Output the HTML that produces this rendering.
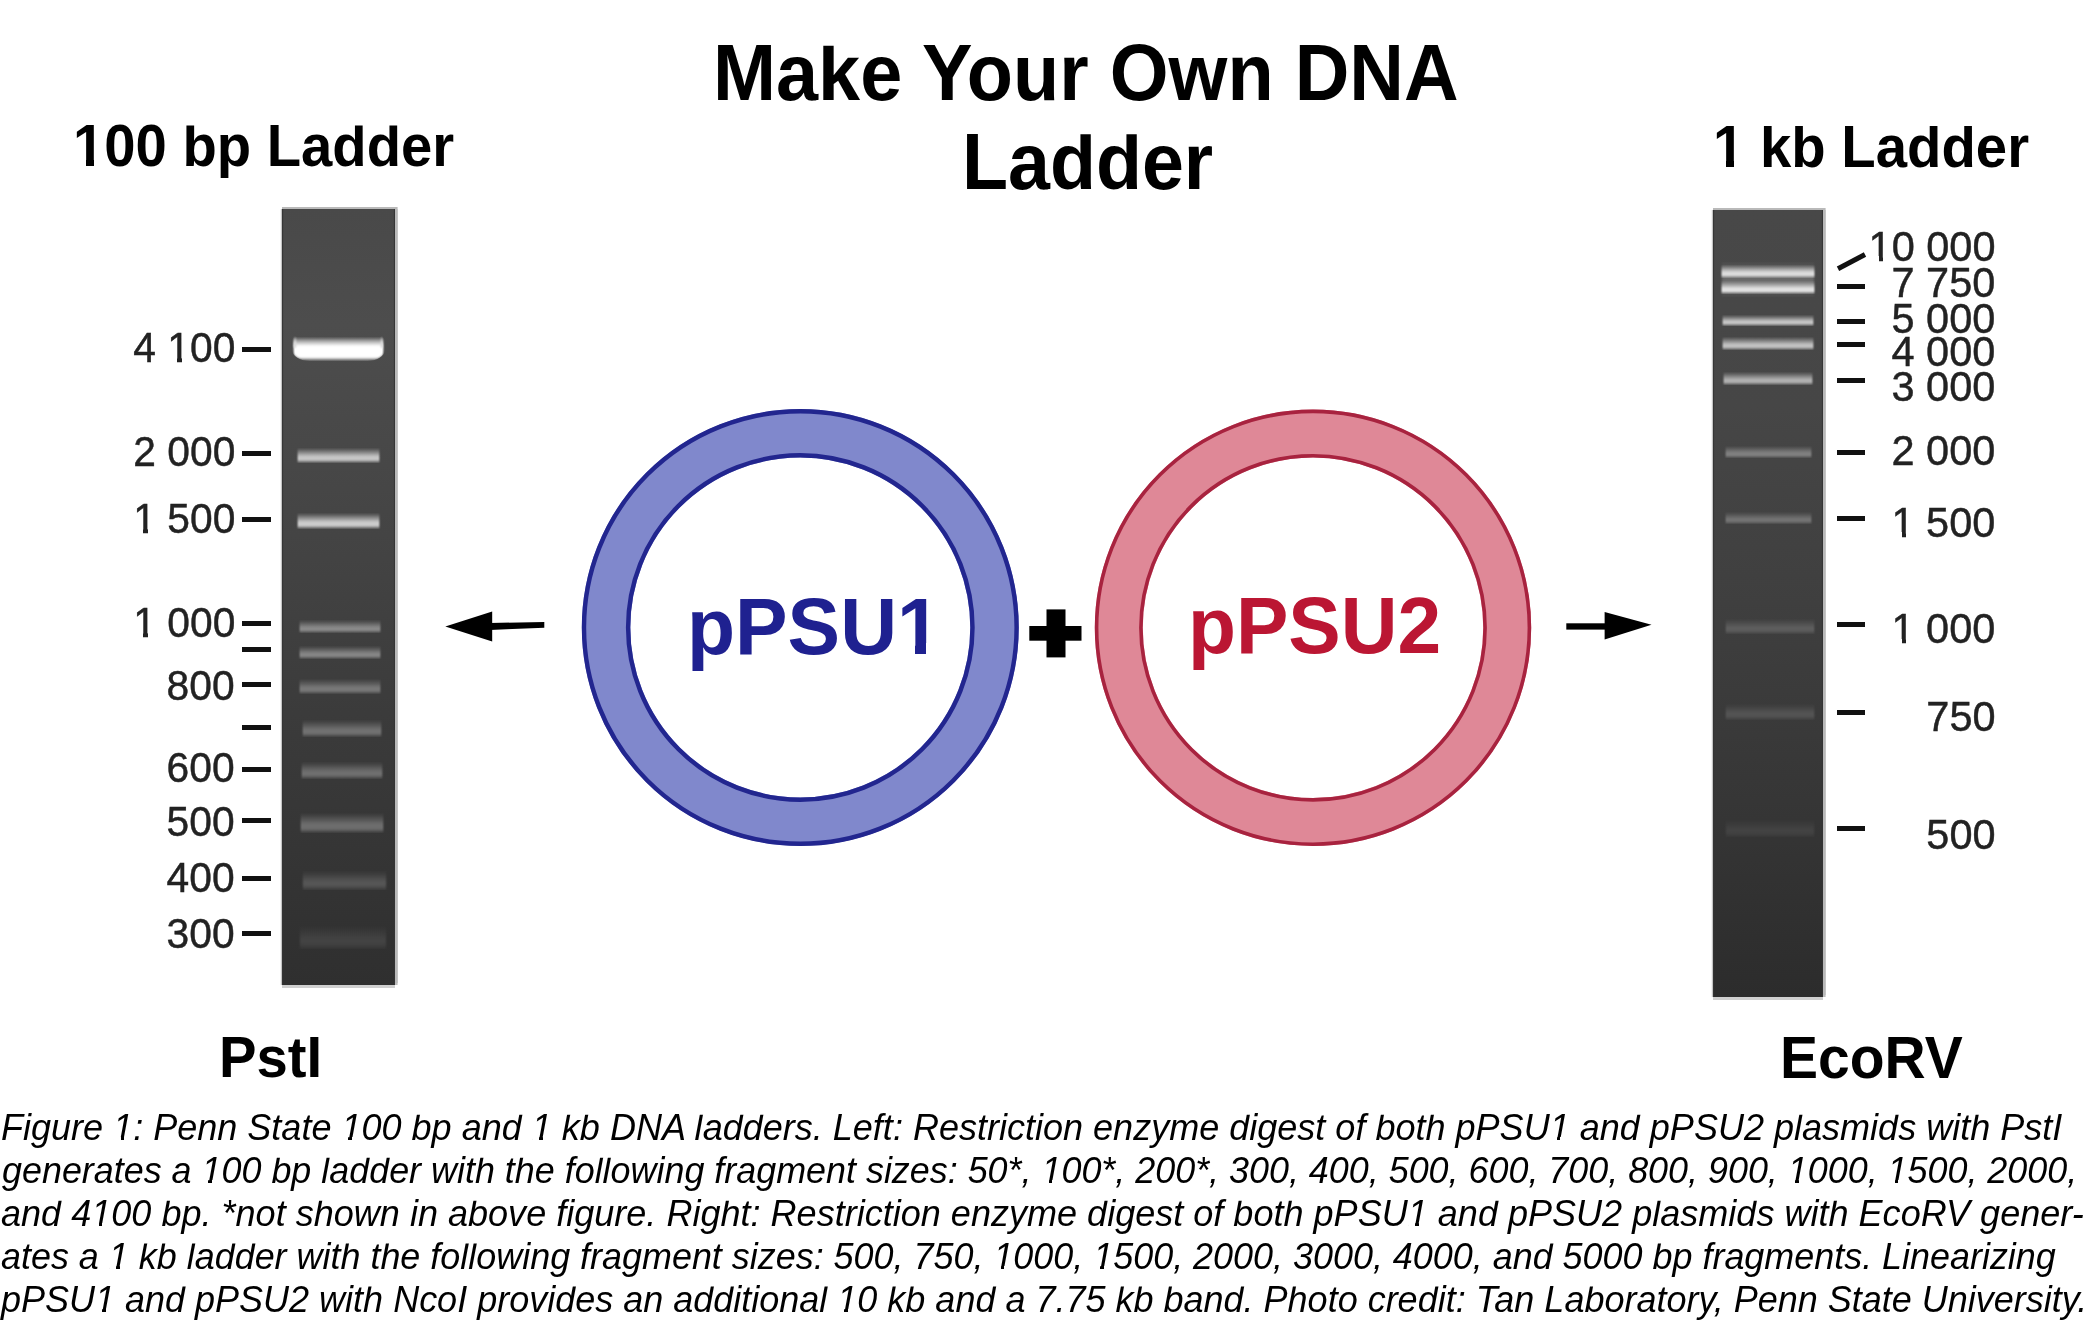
<!DOCTYPE html>
<html><head><meta charset="utf-8"><title>Make Your Own DNA Ladder</title><style>
html,body{margin:0;padding:0;}
body{width:2097px;height:1329px;position:relative;overflow:hidden;background:#fff;font-family:"Liberation Sans",sans-serif;}
.t{position:absolute;line-height:1;white-space:nowrap;transform-origin:0 0;}
.lab{color:#222;font-weight:normal;transform-origin:100% 0;-webkit-text-stroke:0.45px #222;}
.dash{position:absolute;height:5px;background:#111;}
.ov{position:absolute;left:0;top:0;}
.gel{position:absolute;overflow:hidden;box-shadow:inset 2px 0 1px -1px #353535, inset -2px 0 1px -1px #353535, 0 -2px 0 0 #b9b9b9, 2.6px -2px 0 0 #b9b9b9, 2.6px 0 0 0 #bdbdbd, 0 3px 0 0 #cfcfcf, -1.2px 0 0 0 #c4c4c4;}
.band{position:absolute;-webkit-mask-image:linear-gradient(to right,transparent 0,#000 3px,#000 calc(100% - 3px),transparent 100%);mask-image:linear-gradient(to right,transparent 0,#000 3px,#000 calc(100% - 3px),transparent 100%);}
.o1{position:relative;display:inline-block;}
.asc{display:inline-block;clip-path:inset(0.157em -0.3em -0.6em -0.3em);}
.o1::after{content:"";position:absolute;top:calc(0.8467em - var(--fh));height:calc(var(--fh) + 0.06em);left:0;right:-0.02em;
  background:linear-gradient(to right,#fff 0,#fff var(--sl),transparent var(--sl),transparent var(--sr),#fff var(--sr),#fff 100%);}
.o1r{--fh:0.105em;--sl:0.2490em;--sr:0.3420em;}
.lab .o1r{--fh:0.115em;--sl:0.2435em;--sr:0.3478em;}
.o1b{--fh:0.135em;--sl:0.2314em;--sr:0.3726em;}
.o1i{--fh:0.095em;--sl:0.2010em;--sr:0.3010em;}


</style></head><body><div id="wrap" style="position:absolute;left:0;top:0;width:2097px;height:1329px;filter:blur(0.45px);">
<svg class="ov" width="2097" height="1329" viewBox="0 0 2097 1329">
<circle cx="800.3" cy="627.5" r="194.2" fill="none" stroke="#8088cc" stroke-width="48.5"/>
<circle cx="800.3" cy="627.5" r="216.3" fill="none" stroke="#22268f" stroke-width="4.4"/>
<circle cx="800.3" cy="627.5" r="172.2" fill="none" stroke="#22268f" stroke-width="4.4"/>
<circle cx="1313" cy="627.8" r="194.2" fill="none" stroke="#df8897" stroke-width="48"/>
<circle cx="1313" cy="627.8" r="216.4" fill="none" stroke="#a8233f" stroke-width="3.6"/>
<circle cx="1313" cy="627.8" r="172.1" fill="none" stroke="#a8233f" stroke-width="3.6"/>
<polygon points="445.3,626.5 492.2,611.6 492.2,641.4" fill="#000"/>
<polygon points="490,623 544.3,622 544.3,627.8 490,630" fill="#000"/>
<polygon points="1651.5,624.8 1604.6,612 1604.6,639.6" fill="#000"/>
<rect x="1566.3" y="623.3" width="40" height="6.3" fill="#000"/>
<rect x="1046.5" y="609.4" width="19" height="48" fill="#000"/>
<rect x="1029.3" y="626" width="52.2" height="14.7" fill="#000"/>
<line x1="1838" y1="268.8" x2="1865" y2="254.5" stroke="#111" stroke-width="5"/>
</svg>
<div id="t1" class="t" style="left:713.23px;top:33.20px;font-size:79.36px;font-weight:bold;font-style:normal;color:#000;transform:scaleX(0.9535);">Ma<span class="asc">k</span>e Your Own DNA</div>
<div id="t2" class="t" style="left:962.27px;top:121.86px;font-size:79.65px;font-weight:bold;font-style:normal;color:#000;transform:scaleX(0.9459);">La<span class="asc">d</span><span class="asc">d</span>er</div>
<div id="h1" class="t" style="left:73.43px;top:116.09px;font-size:59.30px;font-weight:bold;font-style:normal;color:#000;transform:scaleX(0.9481);"><span class="o1 o1b">1</span>00 <span class="asc">b</span>p La<span class="asc">d</span><span class="asc">d</span>er</div>
<div id="h2" class="t" style="left:1713.23px;top:116.59px;font-size:59.30px;font-weight:bold;font-style:normal;color:#000;transform:scaleX(0.9495);"><span class="o1 o1b">1</span> <span class="asc">k</span><span class="asc">b</span> La<span class="asc">d</span><span class="asc">d</span>er</div>
<div id="pst" class="t" style="left:219.12px;top:1028.40px;font-size:58.00px;font-weight:bold;font-style:normal;color:#000;transform:scaleX(0.9697);">PstI</div>
<div id="eco" class="t" style="left:1780.17px;top:1027.54px;font-size:59.59px;font-weight:bold;font-style:normal;color:#000;transform:scaleX(0.9570);">EcoRV</div>
<div id="p1" class="t" style="left:686.90px;top:585.87px;font-size:80.23px;font-weight:bold;font-style:normal;color:#1f2190;transform:scaleX(0.9815);">pPSU<span class="o1 o1b">1</span></div>
<div id="p2" class="t" style="left:1188.07px;top:586.08px;font-size:79.51px;font-weight:bold;font-style:normal;color:#bb1633;transform:scaleX(0.9879);">pPSU2</div>
<div id="c0" class="t" style="left:1.04px;top:1108.75px;font-size:37.50px;font-weight:normal;font-style:italic;color:#000;transform:scaleX(0.9606);">Figure <span class="o1 o1i">1</span>: Penn State <span class="o1 o1i">1</span>00 <span class="asc">b</span>p an<span class="asc">d</span> <span class="o1 o1i">1</span> <span class="asc">k</span><span class="asc">b</span> DNA <span class="asc">l</span>a<span class="asc">d</span><span class="asc">d</span>ers. Left: Restriction enzyme <span class="asc">d</span>igest of <span class="asc">b</span>ot<span class="asc">h</span> pPSU<span class="o1 o1i">1</span> an<span class="asc">d</span> pPSU2 p<span class="asc">l</span>asmi<span class="asc">d</span>s wit<span class="asc">h</span> PstI</div>
<div id="c1" class="t" style="left:2.00px;top:1151.75px;font-size:37.50px;font-weight:normal;font-style:italic;color:#000;transform:scaleX(0.9570);">generates a <span class="o1 o1i">1</span>00 <span class="asc">b</span>p <span class="asc">l</span>a<span class="asc">d</span><span class="asc">d</span>er wit<span class="asc">h</span> t<span class="asc">h</span>e fo<span class="asc">l</span><span class="asc">l</span>owing fragment sizes: 50*, <span class="o1 o1i">1</span>00*, 200*, 300, 400, 500, 600, 700, 800, 900, <span class="o1 o1i">1</span>000, <span class="o1 o1i">1</span>500, 2000,</div>
<div id="c2" class="t" style="left:1.04px;top:1194.75px;font-size:37.50px;font-weight:normal;font-style:italic;color:#000;transform:scaleX(0.9612);">an<span class="asc">d</span> 4<span class="o1 o1i">1</span>00 <span class="asc">b</span>p. *not s<span class="asc">h</span>own in a<span class="asc">b</span>ove figure. Rig<span class="asc">h</span>t: Restriction enzyme <span class="asc">d</span>igest of <span class="asc">b</span>ot<span class="asc">h</span> pPSU<span class="o1 o1i">1</span> an<span class="asc">d</span> pPSU2 p<span class="asc">l</span>asmi<span class="asc">d</span>s wit<span class="asc">h</span> EcoRV gener-</div>
<div id="c3" class="t" style="left:1.04px;top:1237.55px;font-size:37.50px;font-weight:normal;font-style:italic;color:#000;transform:scaleX(0.9578);">ates a <span class="o1 o1i">1</span> <span class="asc">k</span><span class="asc">b</span> <span class="asc">l</span>a<span class="asc">d</span><span class="asc">d</span>er wit<span class="asc">h</span> t<span class="asc">h</span>e fo<span class="asc">l</span><span class="asc">l</span>owing fragment sizes: 500, 750, <span class="o1 o1i">1</span>000, <span class="o1 o1i">1</span>500, 2000, 3000, 4000, an<span class="asc">d</span> 5000 <span class="asc">b</span>p fragments. Linearizing</div>
<div id="c4" class="t" style="left:0.98px;top:1280.65px;font-size:37.50px;font-weight:normal;font-style:italic;color:#000;transform:scaleX(0.9597);">pPSU<span class="o1 o1i">1</span> an<span class="asc">d</span> pPSU2 wit<span class="asc">h</span> NcoI provi<span class="asc">d</span>es an a<span class="asc">d</span><span class="asc">d</span>itiona<span class="asc">l</span> <span class="o1 o1i">1</span>0 <span class="asc">k</span><span class="asc">b</span> an<span class="asc">d</span> a 7.75 <span class="asc">k</span><span class="asc">b</span> <span class="asc">b</span>an<span class="asc">d</span>. P<span class="asc">h</span>oto cre<span class="asc">d</span>it: Tan La<span class="asc">b</span>oratory, Penn State University.</div>
<div id="lL0" class="t lab" style="right:1862.02px;top:326.99px;font-size:41.7px;transform:scaleX(0.9775);">4 <span class="o1 o1r">1</span>00</div>
<div id="lL1" class="t lab" style="right:1862.02px;top:431.19px;font-size:41.7px;transform:scaleX(0.9775);">2 000</div>
<div id="lL2" class="t lab" style="right:1862.02px;top:498.09px;font-size:41.7px;transform:scaleX(0.9775);"><span class="o1 o1r">1</span> 500</div>
<div id="lL3" class="t lab" style="right:1862.02px;top:602.29px;font-size:41.7px;transform:scaleX(0.9775);"><span class="o1 o1r">1</span> 000</div>
<div id="lL4" class="t lab" style="right:1862.02px;top:665.29px;font-size:41.7px;transform:scaleX(0.9775);">800</div>
<div id="lL5" class="t lab" style="right:1862.02px;top:747.39px;font-size:41.7px;transform:scaleX(0.9775);">600</div>
<div id="lL6" class="t lab" style="right:1862.02px;top:801.29px;font-size:41.7px;transform:scaleX(0.9775);">500</div>
<div id="lL7" class="t lab" style="right:1862.02px;top:856.99px;font-size:41.7px;transform:scaleX(0.9775);">400</div>
<div id="lL8" class="t lab" style="right:1862.02px;top:912.69px;font-size:41.7px;transform:scaleX(0.9775);">300</div>
<div id="lR0" class="t lab" style="right:101.61px;top:225.79px;font-size:41.7px;transform:scaleX(0.9951);"><span class="o1 o1r">1</span>0 000</div>
<div id="lR1" class="t lab" style="right:101.61px;top:262.19px;font-size:41.7px;transform:scaleX(0.9951);">7 750</div>
<div id="lR2" class="t lab" style="right:101.61px;top:297.59px;font-size:41.7px;transform:scaleX(0.9951);">5 000</div>
<div id="lR3" class="t lab" style="right:101.61px;top:330.69px;font-size:41.7px;transform:scaleX(0.9951);">4 000</div>
<div id="lR4" class="t lab" style="right:101.61px;top:365.89px;font-size:41.7px;transform:scaleX(0.9951);">3 000</div>
<div id="lR5" class="t lab" style="right:101.61px;top:430.29px;font-size:41.7px;transform:scaleX(0.9951);">2 000</div>
<div id="lR6" class="t lab" style="right:101.61px;top:501.69px;font-size:41.7px;transform:scaleX(0.9951);"><span class="o1 o1r">1</span> 500</div>
<div id="lR7" class="t lab" style="right:101.61px;top:608.19px;font-size:41.7px;transform:scaleX(0.9951);"><span class="o1 o1r">1</span> 000</div>
<div id="lR8" class="t lab" style="right:101.61px;top:695.79px;font-size:41.7px;transform:scaleX(0.9951);">750</div>
<div id="lR9" class="t lab" style="right:101.61px;top:814.39px;font-size:41.7px;transform:scaleX(0.9951);">500</div>
<div class="dash" style="left:241.5px;top:346.5px;width:29.2px;"></div>
<div class="dash" style="left:241.5px;top:451.1px;width:29.2px;"></div>
<div class="dash" style="left:241.5px;top:516.5px;width:29.2px;"></div>
<div class="dash" style="left:241.5px;top:620.7px;width:29.2px;"></div>
<div class="dash" style="left:241.5px;top:647.2px;width:29.2px;"></div>
<div class="dash" style="left:241.5px;top:682.4px;width:29.2px;"></div>
<div class="dash" style="left:241.5px;top:724.9px;width:29.2px;"></div>
<div class="dash" style="left:241.5px;top:766.9px;width:29.2px;"></div>
<div class="dash" style="left:241.5px;top:817.8px;width:29.2px;"></div>
<div class="dash" style="left:241.5px;top:875.9px;width:29.2px;"></div>
<div class="dash" style="left:241.5px;top:930.7px;width:29.2px;"></div>
<div class="dash" style="left:1836.8px;top:284.0px;width:28.2px;"></div>
<div class="dash" style="left:1836.8px;top:319.0px;width:28.2px;"></div>
<div class="dash" style="left:1836.8px;top:341.9px;width:28.2px;"></div>
<div class="dash" style="left:1836.8px;top:377.6px;width:28.2px;"></div>
<div class="dash" style="left:1836.8px;top:450.0px;width:28.2px;"></div>
<div class="dash" style="left:1836.8px;top:516.4px;width:28.2px;"></div>
<div class="dash" style="left:1836.8px;top:621.9px;width:28.2px;"></div>
<div class="dash" style="left:1836.8px;top:710.4px;width:28.2px;"></div>
<div class="dash" style="left:1836.8px;top:826.2px;width:28.2px;"></div>
<div class="gel" style="left:282.3px;top:209px;width:112.5px;height:776.2px;background:linear-gradient(to bottom,#494949 0%,#4d4d4d 15%,#484848 30%,#434343 45%,#3b3b3b 65%,#2f2f2f 100%);"><div class="band" style="left:9.7px;top:128.0px;width:93.0px;height:24.0px;background:linear-gradient(to bottom,rgba(190,190,190,0) 0%,rgba(200,200,200,0.8) 18%,#fff 38%,#fff 85%,rgba(255,255,255,0) 100%);filter:blur(1.0px);border-radius:4px 4px 18px 18px/4px 4px 11px 11px;"></div><div class="band" style="left:10.2px;top:126.5px;width:5.5px;height:13.5px;background:linear-gradient(to bottom,rgba(220,220,220,0) 0%,rgba(220,220,220,0.5) 30%,rgb(220,220,220) 58%,rgb(220,220,220) 80%,rgba(220,220,220,0) 100%);filter:blur(1.3px);border-radius:3px;"></div><div class="band" style="left:96.7px;top:126.5px;width:5.5px;height:13.5px;background:linear-gradient(to bottom,rgba(220,220,220,0) 0%,rgba(220,220,220,0.5) 30%,rgb(220,220,220) 58%,rgb(220,220,220) 80%,rgba(220,220,220,0) 100%);filter:blur(1.3px);border-radius:3px;"></div><div class="band" style="left:14.2px;top:238.5px;width:85.0px;height:15.0px;background:linear-gradient(to bottom,rgba(200,200,200,0) 0%,rgba(200,200,200,0.5) 30%,rgb(200,200,200) 58%,rgb(200,200,200) 80%,rgba(200,200,200,0) 100%);filter:blur(0.9px);"></div><div class="band" style="left:14.2px;top:303.5px;width:85.0px;height:16.0px;background:linear-gradient(to bottom,rgba(205,205,205,0) 0%,rgba(205,205,205,0.5) 30%,rgb(205,205,205) 58%,rgb(205,205,205) 80%,rgba(205,205,205,0) 100%);filter:blur(0.9px);"></div><div class="band" style="left:16.2px;top:411.0px;width:83.5px;height:13.0px;background:linear-gradient(to bottom,rgba(138,138,138,0) 0%,rgba(138,138,138,0.5) 30%,rgb(138,138,138) 58%,rgb(138,138,138) 80%,rgba(138,138,138,0) 100%);filter:blur(1.2px);"></div><div class="band" style="left:16.2px;top:436.5px;width:83.5px;height:13.5px;background:linear-gradient(to bottom,rgba(134,134,134,0) 0%,rgba(134,134,134,0.5) 30%,rgb(134,134,134) 58%,rgb(134,134,134) 80%,rgba(134,134,134,0) 100%);filter:blur(1.2px);"></div><div class="band" style="left:16.2px;top:470.0px;width:83.5px;height:15.0px;background:linear-gradient(to bottom,rgba(120,120,120,0) 0%,rgba(120,120,120,0.5) 30%,rgb(120,120,120) 58%,rgb(120,120,120) 80%,rgba(120,120,120,0) 100%);filter:blur(1.3px);"></div><div class="band" style="left:18.7px;top:510.5px;width:82.0px;height:17.0px;background:linear-gradient(to bottom,rgba(114,114,114,0) 0%,rgba(114,114,114,0.5) 30%,rgb(114,114,114) 58%,rgb(114,114,114) 80%,rgba(114,114,114,0) 100%);filter:blur(1.6px);"></div><div class="band" style="left:17.7px;top:553.0px;width:84.0px;height:17.0px;background:linear-gradient(to bottom,rgba(112,112,112,0) 0%,rgba(112,112,112,0.5) 30%,rgb(112,112,112) 58%,rgb(112,112,112) 80%,rgba(112,112,112,0) 100%);filter:blur(1.6px);"></div><div class="band" style="left:16.7px;top:603.5px;width:86.0px;height:20.0px;background:linear-gradient(to bottom,rgba(110,110,110,0) 0%,rgba(110,110,110,0.5) 30%,rgb(110,110,110) 58%,rgb(110,110,110) 80%,rgba(110,110,110,0) 100%);filter:blur(1.8px);"></div><div class="band" style="left:18.7px;top:662.0px;width:87.0px;height:18.5px;background:linear-gradient(to bottom,rgba(88,88,88,0) 0%,rgba(88,88,88,0.5) 30%,rgb(88,88,88) 58%,rgb(88,88,88) 80%,rgba(88,88,88,0) 100%);filter:blur(2.0px);"></div><div class="band" style="left:15.7px;top:717.0px;width:90.0px;height:23.0px;background:linear-gradient(to bottom,rgba(68,68,68,0) 0%,rgba(68,68,68,0.5) 30%,rgb(68,68,68) 58%,rgb(68,68,68) 80%,rgba(68,68,68,0) 100%);filter:blur(2.6px);"></div></div>
<div class="gel" style="left:1712.5px;top:209.5px;width:110.70000000000005px;height:787.7px;background:linear-gradient(to bottom,#484848 0%,#464646 25%,#3f3f3f 50%,#363636 75%,#2c2c2c 100%);"><div class="band" style="left:7.5px;top:52.5px;width:95.5px;height:35.0px;background:linear-gradient(to bottom,rgba(150,150,150,0) 0%,rgba(150,150,150,0.45) 30%,rgba(150,150,150,0.45) 70%,rgba(150,150,150,0) 100%);filter:blur(2.5px);"></div><div class="band" style="left:7.5px;top:55.5px;width:95.5px;height:13.0px;background:linear-gradient(to bottom,rgba(222,222,222,0) 0%,rgba(222,222,222,0.5) 30%,rgb(222,222,222) 58%,rgb(222,222,222) 80%,rgba(222,222,222,0) 100%);filter:blur(0.9px);"></div><div class="band" style="left:7.5px;top:71.0px;width:95.5px;height:13.0px;background:linear-gradient(to bottom,rgba(228,228,228,0) 0%,rgba(228,228,228,0.5) 30%,rgb(228,228,228) 58%,rgb(228,228,228) 80%,rgba(228,228,228,0) 100%);filter:blur(0.9px);"></div><div class="band" style="left:8.5px;top:105.0px;width:93.5px;height:11.5px;background:linear-gradient(to bottom,rgba(200,200,200,0) 0%,rgba(200,200,200,0.5) 30%,rgb(200,200,200) 58%,rgb(200,200,200) 80%,rgba(200,200,200,0) 100%);filter:blur(0.85px);"></div><div class="band" style="left:8.5px;top:127.5px;width:93.5px;height:13.0px;background:linear-gradient(to bottom,rgba(195,195,195,0) 0%,rgba(195,195,195,0.5) 30%,rgb(195,195,195) 58%,rgb(195,195,195) 80%,rgba(195,195,195,0) 100%);filter:blur(0.85px);"></div><div class="band" style="left:9.5px;top:162.0px;width:92.0px;height:13.5px;background:linear-gradient(to bottom,rgba(178,178,178,0) 0%,rgba(178,178,178,0.5) 30%,rgb(178,178,178) 58%,rgb(178,178,178) 80%,rgba(178,178,178,0) 100%);filter:blur(0.9px);"></div><div class="band" style="left:11.0px;top:236.5px;width:89.5px;height:11.5px;background:linear-gradient(to bottom,rgba(130,130,130,0) 0%,rgba(130,130,130,0.5) 30%,rgb(130,130,130) 58%,rgb(130,130,130) 80%,rgba(130,130,130,0) 100%);filter:blur(1.0px);"></div><div class="band" style="left:11.0px;top:302.5px;width:89.5px;height:11.5px;background:linear-gradient(to bottom,rgba(116,116,116,0) 0%,rgba(116,116,116,0.5) 30%,rgb(116,116,116) 58%,rgb(116,116,116) 80%,rgba(116,116,116,0) 100%);filter:blur(1.0px);"></div><div class="band" style="left:11.5px;top:409.0px;width:92.0px;height:15.0px;background:linear-gradient(to bottom,rgba(94,94,94,0) 0%,rgba(94,94,94,0.5) 30%,rgb(94,94,94) 58%,rgb(94,94,94) 80%,rgba(94,94,94,0) 100%);filter:blur(1.5px);"></div><div class="band" style="left:11.5px;top:494.5px;width:92.0px;height:16.0px;background:linear-gradient(to bottom,rgba(84,84,84,0) 0%,rgba(84,84,84,0.5) 30%,rgb(84,84,84) 58%,rgb(84,84,84) 80%,rgba(84,84,84,0) 100%);filter:blur(1.6px);"></div><div class="band" style="left:11.5px;top:610.5px;width:92.0px;height:17.0px;background:linear-gradient(to bottom,rgba(68,68,68,0) 0%,rgba(68,68,68,0.5) 30%,rgb(68,68,68) 58%,rgb(68,68,68) 80%,rgba(68,68,68,0) 100%);filter:blur(2.0px);"></div></div>
</div></body></html>
